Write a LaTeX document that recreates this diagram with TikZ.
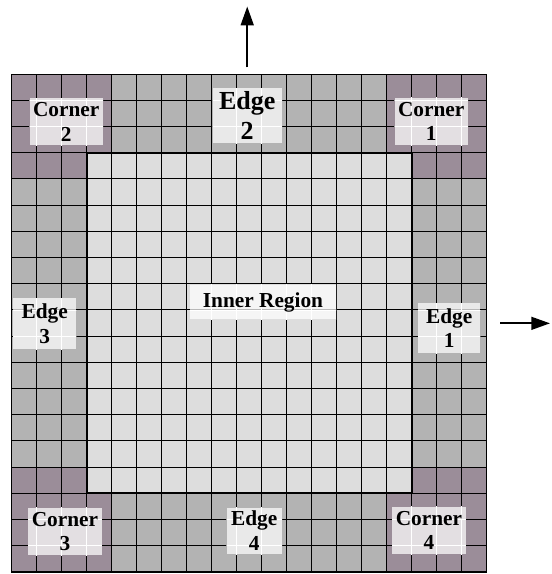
\documentclass[tikz,border=0pt]{standalone}
\usepackage{fontspec}
\setmainfont{Liberation Serif}
\usetikzlibrary{arrows.meta}

\definecolor{cornerfill}{RGB}{155,141,153}
\definecolor{edgefill}{RGB}{179,179,179}
\definecolor{innerfill}{RGB}{221,221,221}

% label box: translucent white patch with the cell lines showing white through it
\newcommand{\regionlabel}[4][]{%
  \node[lblbox,#1] (#2) at (#3) {#4};
  \begin{scope}
    \clip (#2.south west) rectangle (#2.north east);
    \foreach \k in {0,...,19} {
      \draw[white,line width=0.8pt] (\k,0) -- (\k,19);
      \draw[white,line width=0.8pt] (0,\k) -- (19,\k);
    }
  \end{scope}
  \node[lbltext,#1] at (#2.center) {#4};
}

\begin{document}
\begin{tikzpicture}[x=0.75cm,y=0.786cm,
  lblfont/.style={font=\fontsize{18.2}{21}\selectfont\bfseries, align=center, inner sep=3pt, minimum height=40pt},
  lblbox/.style={lblfont, fill=white, fill opacity=0.72, text opacity=0},
  lbltext/.style={lblfont},
  bigfont/.style={font=\fontsize{22.2}{25.6}\selectfont\bfseries},
  dirarrow/.style={line width=1.6pt, -{Triangle[length=16pt,width=11pt]}}]
\useasboundingbox (-0.468,-0.076) rectangle (21.57,21.83);

\fill[edgefill] (0,0) rectangle (19,19);
\foreach \cx/\cy in {0/0,15/0,0/15,15/15}
  \fill[cornerfill] (\cx,\cy) rectangle ++(4,4);
\fill[innerfill] (3,3) rectangle (16,16);

\foreach \k in {0,...,19} {
  \draw[line width=0.85pt] (\k,0) -- (\k,19);
  \draw[line width=0.85pt] (0,\k) -- (19,\k);
}
\draw[line width=1.7pt] (3,3) rectangle (16,16);
\draw[line width=1.1pt] (0,0) rectangle (19,19);

\regionlabel[minimum width=62pt]{corner2}{2.18,17.18}{Corner\\2}
\regionlabel[minimum width=62pt]{corner1}{16.78,17.19}{Corner\\1}
\regionlabel[minimum width=58pt]{corner3}{2.13,1.54}{Corner\\3}
\regionlabel[minimum width=58pt]{corner4}{16.69,1.58}{Corner\\4}
\regionlabel[bigfont,minimum width=59pt,minimum height=47pt]{edge2}{9.42,17.41}{Edge\\2}
\regionlabel[minimum width=53.5pt,minimum height=43.5pt]{edge3}{1.32,9.47}{Edge\\3}
\regionlabel[minimum width=52.7pt,minimum height=42.2pt]{edge1}{17.5,9.31}{Edge\\1}
\regionlabel[minimum width=47pt,minimum height=38.4pt]{edge4}{9.7,1.57}{Edge\\4}
\regionlabel[minimum width=124.6pt,minimum height=29.3pt]{inner}{10.05,10.30}{Inner Region}

\coordinate (upfrom) at (9.42,19.26);
\coordinate (upto) at (9.42,21.58);
\coordinate (rightfrom) at (19.53,9.49);
\coordinate (rightto) at (21.53,9.49);
\draw[dirarrow] (upfrom) -- (upto);
\draw[dirarrow] (rightfrom) -- (rightto);
\end{tikzpicture}
\end{document}
